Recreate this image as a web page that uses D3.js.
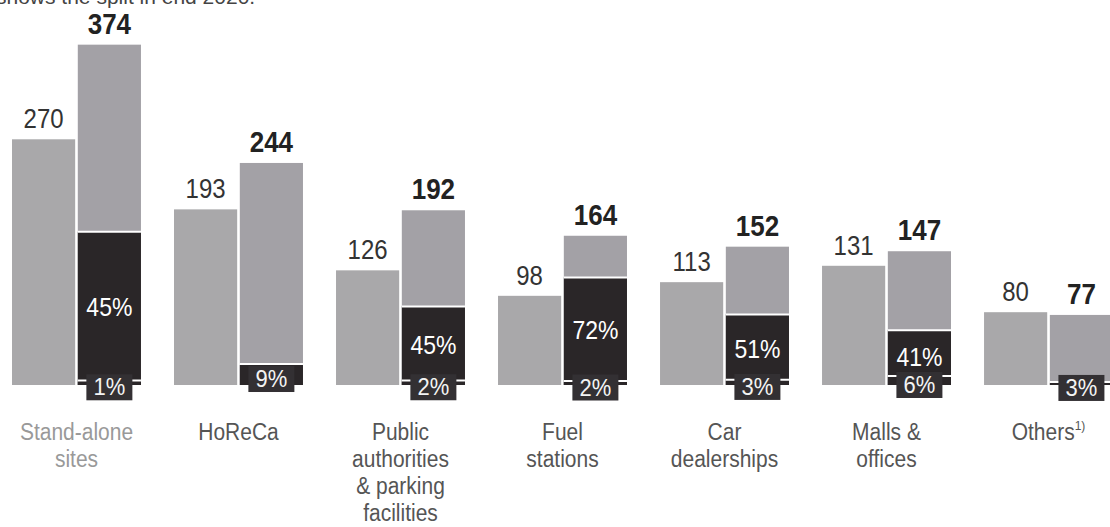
<!DOCTYPE html>
<html>
<head>
<meta charset="utf-8">
<script src="https://cdn.jsdelivr.net/npm/d3@7"></script>
<style>
  body { margin: 0; background: #fff; }
  svg { display: block; font-family: "Liberation Sans", Arial, sans-serif; }
</style>
</head>
<body>
<div id="chart"></div>
<script>
// values
var categories = ["Stand-alone", "HoReCa", "Public", "Fuel", "Car", "Malls", "Others"];
var labelLines = [["Stand-alone", "sites"], ["HoReCa"], ["Public", "authorities", "& parking", "facilities"],
                  ["Fuel", "stations"], ["Car", "dealerships"], ["Malls &", "offices"], ["Others"]];
var years = ["2019", "2020"];
var values2019 = [270, 193, 126, 98, 113, 131, 80];
var values2020 = [374, 244, 192, 164, 152, 147, 77];
var sharePct = [45, null, 45, 72, 51, 41, null];
var smallPct = [1, 9, 2, 2, 3, 6, 3];
var titleText = "shows the split in end 2020.";

var width = 1110, height = 527, base = 385;

var svg = d3.select("#chart")
  .append("svg")
  .attr("width", width)
  .attr("height", height);

var x = d3.scaleBand()
  .domain(categories)
  .range([12, 1113])
  .paddingInner(0.204)
  .paddingOuter(0);

var xi = d3.scaleBand()
  .domain(years)
  .range([0, x.bandwidth()])
  .paddingInner(0.04);

var y = d3.scaleLinear()
  .domain([0, 400])
  .range([base, base - 364]);

// stretched text, the scan is a bit taller than wide
function txt(g, tx, ty, s, size, weight, fill) {
  return g.append("text")
    .attr("transform", "translate(" + tx + "," + ty + ") scale(1,1.12)")
    .attr("text-anchor", "middle")
    .attr("font-size", size)
    .attr("font-weight", weight)
    .attr("fill", fill)
    .text(s);
}

// cut off heading line
svg.append("text")
  .attr("x", -4)
  .attr("y", 4)
  .attr("font-size", 21)
  .attr("fill", "#444")
  .text(titleText);

var groups = svg.selectAll(".grp")
  .data(categories)
  .enter()
  .append("g")
  .attr("class", "grp")
  .attr("transform", function(d) { return "translate(" + x(d) + ",0)"; });

groups.each(function(d, i) {
  var g = d3.select(this);
  var bw = xi.bandwidth();
  var x0 = xi("2019"), x1 = xi("2020");
  var v0 = values2019[i], v1 = values2020[i];

  // left bar (2019)
  g.append("rect")
    .attr("x", x0).attr("y", y(v0))
    .attr("width", bw).attr("height", base - y(v0))
    .attr("fill", "#a9a8aa");
  txt(g, x0 + bw / 2, y(v0) - 11, v0, 24, "normal", "#333");

  // right bar (2020)
  g.append("rect")
    .attr("x", x1).attr("y", y(v1))
    .attr("width", bw).attr("height", base - y(v1))
    .attr("fill", "#a3a1a6");
  txt(g, x1 + bw / 2, y(v1) - 11, v1, 26, "bold", "#222");

  var h1 = base - y(v1);
  var sTop = base - h1 * smallPct[i] / 100;

  if (sharePct[i] != null) {
    var dTop = base - h1 * sharePct[i] / 100;
    g.append("rect")
      .attr("x", x1).attr("y", dTop)
      .attr("width", bw).attr("height", base - dTop)
      .attr("fill", "#2a2628");
    g.append("line")
      .attr("x1", x1).attr("x2", x1 + bw)
      .attr("y1", dTop).attr("y2", dTop)
      .attr("stroke", "#fff").attr("stroke-width", 2);
    txt(g, x1 + bw / 2, (dTop + base) / 2 + 8, sharePct[i] + "%", 23, "normal", "#fff");
  }

  // small share at the bottom
  g.append("rect")
    .attr("x", x1).attr("y", sTop)
    .attr("width", bw).attr("height", base - sTop)
    .attr("fill", "#2a2628");
  g.append("line")
    .attr("x1", x1).attr("x2", x1 + bw)
    .attr("y1", sTop - 1).attr("y2", sTop - 1)
    .attr("stroke", "#fff").attr("stroke-width", 2);

  var bc = Math.min((sTop + base) / 2 + 4, base + 4);
  var bwBox = 46, bhBox = 26;
  g.append("rect")
    .attr("x", x1 + bw / 2 - bwBox / 2).attr("y", bc - bhBox / 2)
    .attr("width", bwBox).attr("height", bhBox)
    .attr("fill", "#333033");
  txt(g, x1 + bw / 2, bc + 8, smallPct[i] + "%", 22, "normal", "#f4f4f4");

  // category label
  var cx = x.bandwidth() / 2;
  labelLines[i].forEach(function(line, k) {
    var t = txt(g, cx, 440 + k * 27, line, 21, "normal", i == 0 ? "#999" : "#555");
    if (line == "Others") {
      t.append("tspan")
        .attr("font-size", 12)
        .attr("dy", -9)
        .text("1)");
    }
  });
});
</script>
</body>
</html>
